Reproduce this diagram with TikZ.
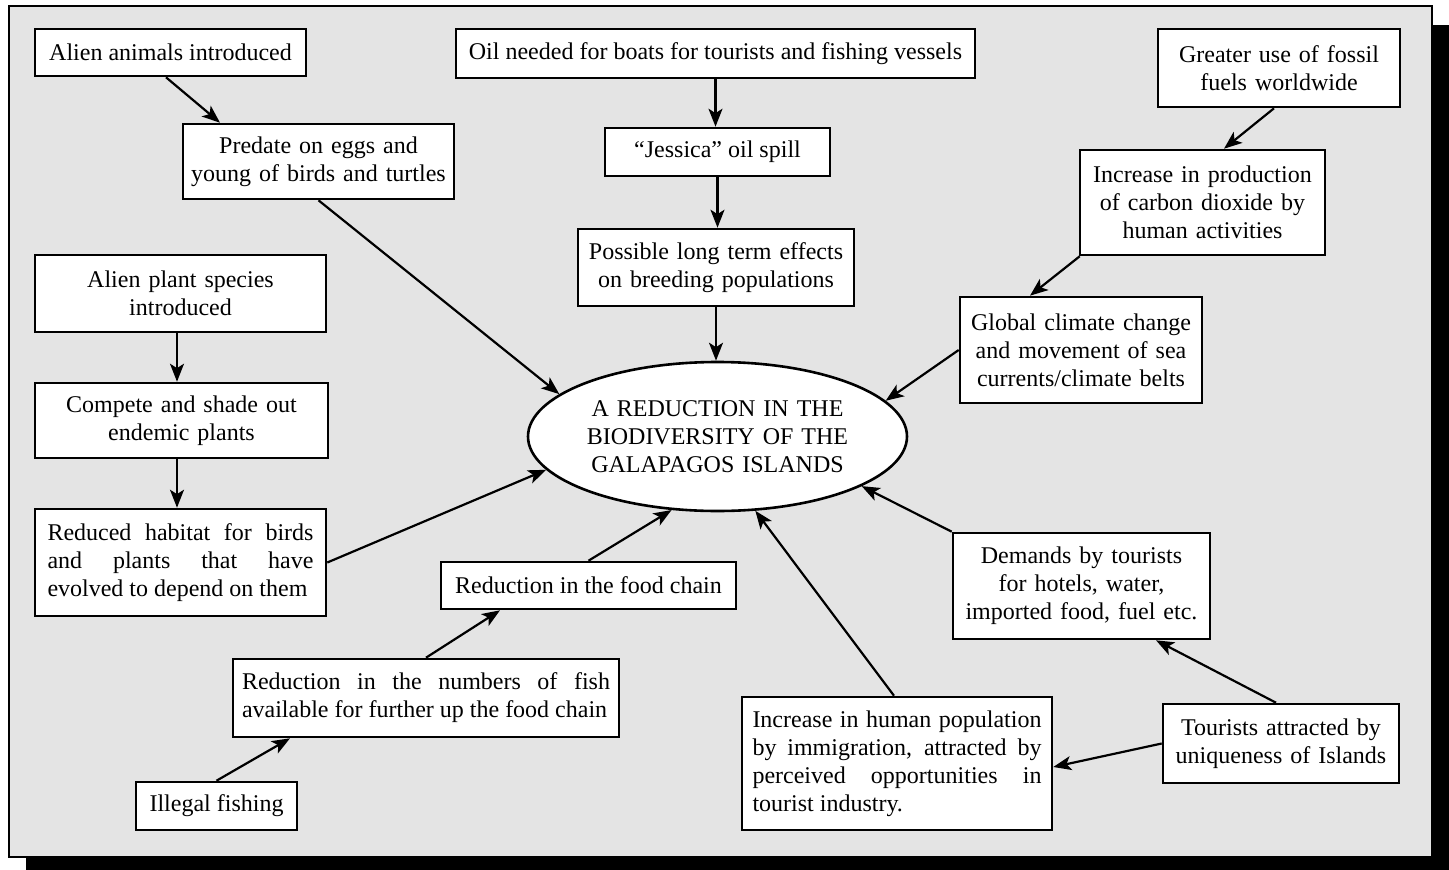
\documentclass[tikz,border=0pt]{standalone}
\usepackage{fontspec}
\setmainfont{Liberation Serif}
\usetikzlibrary{arrows.meta,shapes.geometric,calc}
\definecolor{bggray}{RGB}{228,228,228}
\hyphenpenalty=10000
\exhyphenpenalty=10000
\tolerance=9999
\begin{document}
\begin{tikzpicture}[x=1pt,y=-1pt,
  box/.style={draw=black, line width=2.6pt, fill=white, inner sep=0pt, align=center,
    font=\fontsize{24}{28}\selectfont},
  jbox/.style={box, align=justify},
  arr/.style={line width=2.2pt, -{Stealth[length=18pt,width=14pt,inset=4.5pt]}},
]
\useasboundingbox (0,0) rectangle (1449,870);
\fill[black] (26,25) rectangle (1449,870);
\draw[line width=2pt, fill=bggray] (9,6) rectangle (1432,857);

% nodes
\node[box, minimum width=271pt, minimum height=47pt] (alienA) at (170.5,52.5) {Alien animals introduced};
\node[box, minimum width=271pt, minimum height=75pt, text width=262pt] (predate) at (318.5,161.5) {Predate on eggs and\\young of birds and turtles};
\node[box, minimum width=291pt, minimum height=77pt, text width=280pt] (alienP) at (180.5,293.5) {Alien plant species\\introduced};
\node[box, minimum width=293pt, minimum height=75pt, text width=280pt] (compete) at (181.5,420.5) {Compete and shade out\\endemic plants};
\node[jbox, minimum width=291pt, minimum height=107pt, text width=266pt] (habitat) at (180.5,562.5) {Reduced habitat for birds\linebreak and plants that have\linebreak evolved to depend on them};
\node[box, minimum width=519pt, minimum height=49pt] (oil) at (715.5,53.5) {Oil needed for boats for tourists and fishing vessels};
\node[box, minimum width=225pt, minimum height=48pt] (jessica) at (717.5,152) {“Jessica” oil spill};
\node[box, minimum width=276pt, minimum height=77pt, text width=266pt] (possible) at (716,267.5) {Possible long term effects\\on breeding populations};
\node[box, minimum width=242pt, minimum height=78pt, text width=232pt] (greater) at (1279,68) {Greater use of fossil\\fuels worldwide};
\node[box, minimum width=245pt, minimum height=105pt, text width=235pt] (increase) at (1202.5,202.5) {Increase in production\\of carbon dioxide by\\human activities};
\node[box, minimum width=242pt, minimum height=106pt, text width=234pt] (global) at (1081,350) {Global climate change\\and movement of sea\\currents/climate belts};
\node[draw=black, line width=2.6pt, fill=white, ellipse, inner sep=0pt, minimum width=379pt, minimum height=149pt, text width=262pt, align=center, font=\fontsize{24}{28}\selectfont] (ell) at (717.5,436.5) {A REDUCTION IN THE\\BIODIVERSITY OF THE\\GALAPAGOS ISLANDS};
\node[box, minimum width=295pt, minimum height=47pt] (food) at (588.5,585.5) {Reduction in the food chain};
\node[jbox, minimum width=386pt, minimum height=78pt, text width=368pt] (fish) at (426,698) {Reduction in the numbers of fish\linebreak available for further up the food chain};
\node[box, minimum width=161pt, minimum height=48pt] (illegal) at (216.5,806) {Illegal fishing};
\node[box, minimum width=257pt, minimum height=106pt, text width=247pt] (demands) at (1081.5,586) {Demands by tourists\\for hotels, water,\\imported food, fuel etc.};
\node[jbox, minimum width=310pt, minimum height=133pt, text width=289pt] (human) at (897,763.5) {Increase in human population\linebreak by immigration, attracted by\linebreak perceived opportunities in\linebreak tourist industry.};
\node[box, minimum width=236pt, minimum height=79pt, text width=228pt] (tourists) at (1281,743.5) {Tourists attracted by\\uniqueness of Islands};

% connectors
\draw[arr] ([xshift=-4.5pt]alienA.south) -- ([xshift=-98.5pt]predate.north);
\draw[arr] (predate.south) -- (ell.165.1);
\draw[arr] (oil.south) -- (oil.south |- jessica.north);
\draw[arr] (jessica.south) -- (jessica.south |- possible.north);
\draw[arr] (possible.south) -- (possible.south |- ell.north);
\draw[arr] ([xshift=-5pt]greater.south) -- ([xshift=21.5pt]increase.north);
\draw[arr] ([xshift=1pt]increase.south west) -- ([xshift=-51pt]global.north);
\draw[arr] (global.west) -- (ell.12.4);
\draw[arr] ([xshift=-3.5pt]alienP.south) -- ([xshift=-3.5pt]alienP.south |- compete.north);
\draw[arr] ([xshift=-4.5pt]compete.south) -- ([xshift=-4.5pt]compete.south |- habitat.north);
\draw[arr] (habitat.east) -- (ell.191);
\draw[arr] (food.north) -- (ell.238.2);
\draw[arr] (fish.north) -- ([xshift=-88.5pt]food.south);
\draw[arr] (illegal.north) -- ([xshift=-136pt]fish.south);
\draw[arr] ([xshift=-3pt]human.north) -- (ell.297.4);
\draw[arr] (demands.north west) -- (ell.341.3);
\draw[arr] ([xshift=-5pt]tourists.north) -- ([xshift=74.5pt]demands.south);
\draw[arr] (tourists.west) -- ([yshift=-3.5pt]human.east);
\end{tikzpicture}
\end{document}
